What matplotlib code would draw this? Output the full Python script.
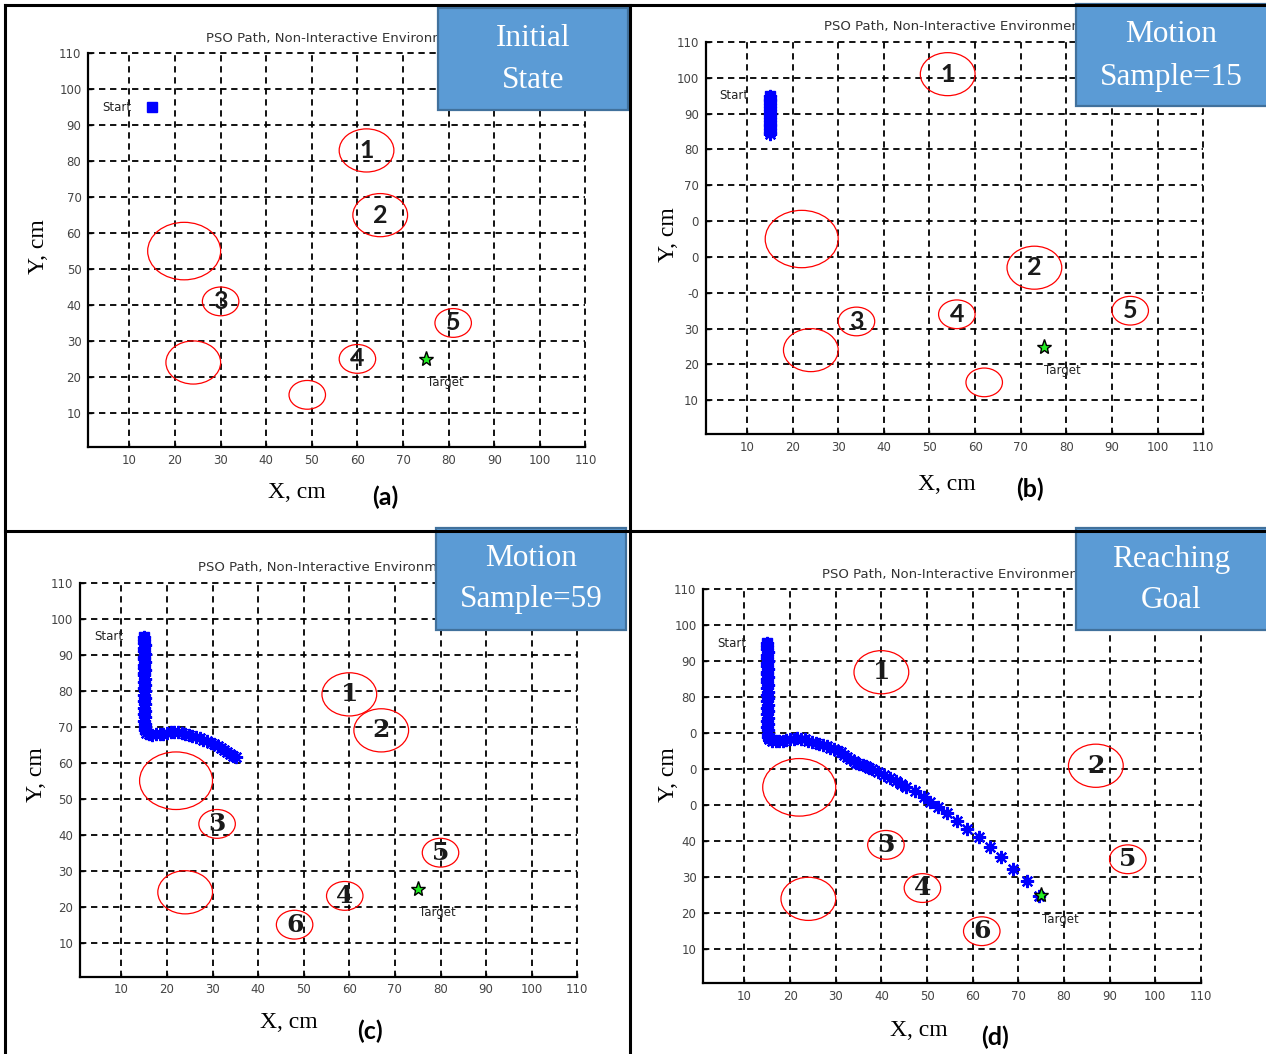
import matplotlib
matplotlib.use("Agg")
import matplotlib.pyplot as plt
from matplotlib.patches import Circle, Rectangle
from matplotlib.lines import Line2D

W, H = 1266, 1054

# PSO path samples (x, y in cm); panels (b)/(c) show the first n samples
path_x = [15.0, 15.0, 15.0, 15.1, 15.0, 15.0, 15.1, 15.0, 15.0, 15.1,
          15.0, 15.0, 15.1, 15.0, 15.0, 15.1, 15.0, 15.1, 15.0, 15.1,
          15.0, 15.1, 15.0, 15.1, 15.0, 15.1, 15.0, 15.1, 15.0, 15.1,
          15.1, 15.2, 15.4, 16.0, 16.8, 17.6, 18.4, 19.2, 20.0, 20.8,
          21.6, 22.4, 23.2, 24.0, 24.8, 25.6, 26.4, 27.2, 28.0, 28.8,
          29.6, 30.4, 31.1, 31.8, 32.5, 33.2, 33.9, 34.5, 35.2, 35.9,
          36.6, 37.3, 38.0, 39.3, 40.5, 41.8, 43.1, 44.3, 45.5, 47.4,
          49.3, 50.7, 52.5, 54.4, 56.6, 58.7, 61.3, 63.7, 66.3, 68.8,
          71.9, 74.6]
path_y = [95.0, 94.2, 93.4, 92.6, 91.8, 91.0, 90.2, 89.5, 88.7, 87.9,
          87.2, 86.4, 85.7, 85.0, 84.3, 83.4, 82.5, 81.6, 80.7, 79.8,
          78.9, 78.0, 77.1, 76.2, 75.3, 74.4, 73.5, 72.6, 71.7, 70.8,
          69.9, 69.0, 68.3, 67.9, 67.8, 67.9, 68.0, 68.1, 68.3, 68.5,
          68.6, 68.5, 68.3, 68.0, 67.7, 67.4, 67.1, 66.8, 66.4, 66.0,
          65.6, 65.2, 64.7, 64.1, 63.5, 62.9, 62.4, 61.9, 61.5, 61.1,
          60.8, 60.5, 60.1, 59.2, 58.3, 57.5, 56.7, 55.8, 55.0, 53.9,
          52.2, 51.0, 49.4, 48.0, 45.7, 43.4, 41.1, 38.3, 35.5, 32.4,
          29.0, 24.9]
samples_shown = [1, 15, 59, len(path_x)]

start_xy = (15, 95)
target_xy = (75, 25)

# obstacles per panel: centre x, centre y, radius, label
obs_x = [[62, 65, 22, 30, 81, 60, 24, 49],
         [54, 73, 22, 34, 56, 94, 24, 62],
         [60, 67, 22, 31, 80, 59, 48, 24],
         [40, 87, 22, 41, 49, 94, 62, 24]]
obs_y = [[83, 65, 55, 41, 35, 25, 24, 15],
         [101, 47, 55, 32, 34, 35, 24, 15],
         [79, 69, 55, 43, 35, 23, 15, 24],
         [87, 61, 55, 39, 27, 35, 15, 24]]
obs_r = [[6, 6, 8, 4, 4, 4, 6, 4],
         [6, 6, 8, 4, 4, 4, 6, 4],
         [6, 6, 8, 4, 4, 4, 4, 6],
         [6, 6, 8, 4, 4, 4, 4, 6]]
obs_lbl = [['1', '2', '', '3', '5', '4', '', ''],
           ['1', '2', '', '3', '4', '5', '', ''],
           ['1', '2', '', '3', '5', '4', '6', ''],
           ['1', '2', '', '3', '4', '5', '6', '']]

ticks = [10, 20, 30, 40, 50, 60, 70, 80, 90, 100, 110]
ytick_labels = [[str(t) for t in ticks],
                ['10', '20', '30', '-0', '0', '0', '70', '80', '90', '100', '110'],
                [str(t) for t in ticks],
                ['10', '20', '30', '40', '0', '0', '0', '80', '90', '100', '110']]

title = "PSO Path, Non-Interactive Environment"
box_lines = [("Initial", "State"), ("Motion", "Sample=15"),
             ("Motion", "Sample=59"), ("Reaching", "Goal")]
panel_tags = ["(a)", "(b)", "(c)", "(d)"]

# layout in pixels (left, top, right, bottom)
AX_RECTS = [(88.4, 53.4, 585.4, 446.6), (705.9, 41.9, 1203.2, 434.0),
            (80.3, 582.8, 577.3, 976.5), (703.4, 589.5, 1200.8, 983.0)]
BOX_RECTS = [(438, 8, 628, 110), (1076, 4, 1268, 106),
             (436, 528, 626, 630), (1076, 528, 1268, 630)]
BOX_TEXT_Y = [(39, 81), (35, 77), (558, 600), (559, 601)]
XLAB_POS = [(297, 492), (947, 485), (289, 1022), (919, 1031)]
TAG_POS = [(385, 497), (1030, 489), (370, 1031), (995, 1037)]
YLAB_POS = [(38, 247), (668, 235), (36, 775), (668, 775)]


def fx(px):
    return px / W


def fy(py):
    return 1 - py / H


def draw_panel(fig, i):
    l, t, r, b = AX_RECTS[i]
    ax = fig.add_axes([fx(l), fy(b), (r - l) / W, (b - t) / H])
    ax.set_xticks(ticks)
    ax.set_yticks(ticks)
    ax.set_yticklabels(ytick_labels[i])
    ax.set_xlim(1, 110)
    ax.set_ylim(0.6, 110)
    ax.tick_params(direction='in', length=3, width=1, labelsize=8.5,
                   labelcolor='#444444', pad=5)
    for s in ['top', 'right']:
        ax.spines[s].set_visible(False)
    for s in ['left', 'bottom']:
        ax.spines[s].set_linewidth(1.6)
    ax.grid(True, color='black', linestyle=(0, (3.5, 2.6)), linewidth=1.3)
    for gl in ax.get_xgridlines() + ax.get_ygridlines():
        gl.set_clip_on(False)
    ax.set_title(title, fontsize=9.5, color='#333333', pad=8.5)

    num_font = 'Lato' if i < 2 else 'DejaVu Serif'
    for x, y, rad, lbl in zip(obs_x[i], obs_y[i], obs_r[i], obs_lbl[i]):
        ax.add_patch(Circle((x, y), rad, fill=False, edgecolor='red', lw=0.9, zorder=3))
        if lbl:
            ax.text(x, y, lbl, ha='center', va='center', fontsize=18,
                    fontweight='bold', family=num_font, color='#1a1a1a', zorder=4)

    n = samples_shown[i]
    if n > 1:
        ax.plot(path_x[:n], path_y[:n], linestyle='none', marker=(8, 2, 0),
                markersize=9.5, markeredgewidth=1.6, color='blue', zorder=5)
    ax.plot(*start_xy, marker='s', markersize=6.5, color='blue', zorder=6)
    ax.plot(*target_xy, marker='*', markersize=11, markerfacecolor='#22ee22',
            markeredgecolor='black', markeredgewidth=1.0, zorder=7)
    ax.text(4.0, 95, "Start", fontsize=8.5, color='#222222', va='center', ha='left', zorder=6)
    ax.text(75.2, 18.3, "Target", fontsize=8.5, color='#222222', va='center', ha='left', zorder=6)
    return ax


def draw_labels(fig, i):
    x0, y0, x1, y1 = BOX_RECTS[i]
    fig.add_artist(Rectangle((fx(x0), fy(y1)), (x1 - x0) / W, (y1 - y0) / H,
                             transform=fig.transFigure, facecolor='#5B9BD5',
                             edgecolor='#41719C', linewidth=1.6, zorder=10))
    cx = (x0 + min(x1, W)) / 2
    for line, ty in zip(box_lines[i], BOX_TEXT_Y[i]):
        fig.text(fx(cx), fy(ty), line, ha='center', va='center', color='white',
                 fontsize=22.5, family='Liberation Serif', zorder=11)
    fig.text(fx(XLAB_POS[i][0]), fy(XLAB_POS[i][1]), "X, cm", ha='center', va='center',
             fontsize=17, family='Liberation Serif')
    fig.text(fx(YLAB_POS[i][0]), fy(YLAB_POS[i][1]), "Y, cm", ha='center', va='center',
             fontsize=17, family='Liberation Serif', rotation=90)
    fig.text(fx(TAG_POS[i][0]), fy(TAG_POS[i][1]), panel_tags[i], ha='center', va='center',
             fontsize=18, fontweight='bold', family='Lato')


def draw_frame(fig):
    segs = [((5, 5), (W, 5)), ((5, 5), (5, H)),
            ((629.5, 5), (629.5, H)), ((5, 530.5), (W, 530.5))]
    for (xa, ya), (xb, yb) in segs:
        fig.add_artist(Line2D([fx(xa), fx(xb)], [fy(ya), fy(yb)],
                              transform=fig.transFigure, color='black', lw=2.2, zorder=12))


def main():
    fig = plt.figure(figsize=(W / 100, H / 100), dpi=100)
    for i in range(4):
        draw_panel(fig, i)
        draw_labels(fig, i)
    draw_frame(fig)
    fig.savefig("out.png", dpi=100)


if __name__ == "__main__":
    main()
